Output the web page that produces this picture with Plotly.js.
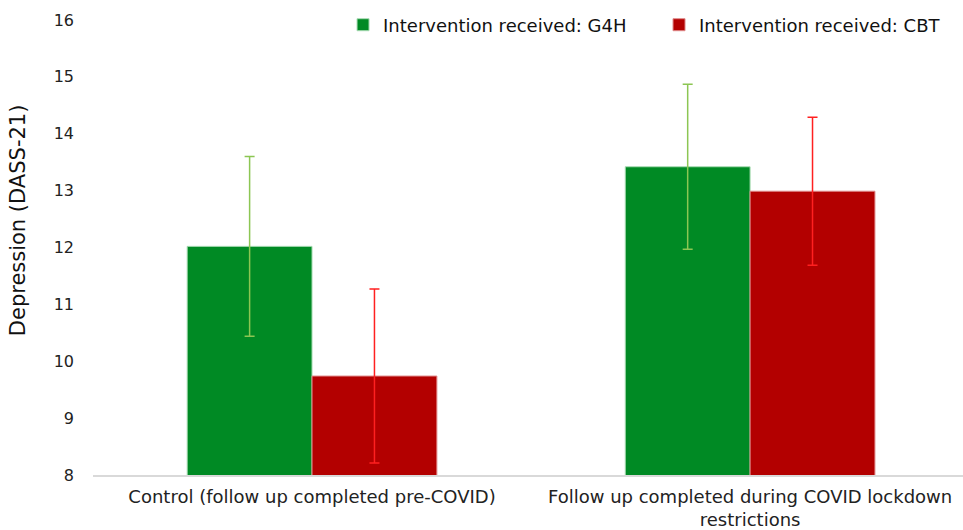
<!DOCTYPE html>
<html>
<head>
<meta charset="utf-8">
<script src="https://cdn.plot.ly/plotly-3.0.1.min.js"></script>
<style>html,body{margin:0;padding:0;background:#fff;}#chart{width:963px;height:530px;}</style>
</head>
<body>
<div id="chart"></div>
<script>
const categories = ["Control (follow up completed pre-COVID)", "Follow up completed during COVID lockdown<br>restrictions"];
const seriesNames = ["Intervention received: G4H", "Intervention received: CBT"];
const g4hValues = [12.02, 13.42];
const g4hErrors = [1.58, 1.45];
const cbtValues = [9.74, 12.99];
const cbtErrors = [1.53, 1.30];
const yTicks = [8, 9, 10, 11, 12, 13, 14, 15, 16];
const yTitle = "Depression (DASS-21)";

const font = "DejaVu Sans, Liberation Sans, Arial, sans-serif";

const traces = [
  {
    type: "bar", name: seriesNames[0], x: categories, y: g4hValues, legend: "legend",
    marker: {color: "#008a24", line: {color: "#a9dcb4", width: 1}},
    error_y: {type: "data", array: g4hErrors, visible: true, color: "#8cc653", thickness: 1.5, width: 5}
  },
  {
    type: "bar", name: seriesNames[1], x: categories, y: cbtValues, legend: "legend2",
    marker: {color: "#b30000", line: {color: "#e08a8a", width: 1}},
    error_y: {type: "data", array: cbtErrors, visible: true, color: "#ff2020", thickness: 1.5, width: 5}
  }
];

const legendStyle = (x) => ({
  orientation: "h", x: x, y: 0.989, xanchor: "left", yanchor: "middle",
  font: {family: font, size: 18, color: "#111"}, bgcolor: "rgba(0,0,0,0)", itemwidth: 30
});

const layout = {
  width: 963, height: 530,
  margin: {l: 93, r: 0, t: 20, b: 55},
  paper_bgcolor: "#fff", plot_bgcolor: "#fff",
  barmode: "group", bargap: 0.43, bargroupgap: 0,
  font: {family: font, size: 16, color: "#222"},
  showlegend: true,
  legend: legendStyle(0.2874),
  legend2: legendStyle(0.6506),
  xaxis: {
    type: "category", range: [-0.5, 1.486], showgrid: false, zeroline: false,
    showline: true, linecolor: "#d9d9d9", linewidth: 2, ticks: "",
    ticklabelstandoff: 4,
    tickfont: {family: font, size: 18, color: "#222"}
  },
  yaxis: {
    range: [8, 16], tickvals: yTicks, ticktext: yTicks.map(String),
    showgrid: false, zeroline: false, showline: false, ticks: "",
    ticklabelstandoff: 18,
    tickfont: {family: font, size: 16, color: "#222"}
  },
  annotations: [{
    text: yTitle, xref: "paper", yref: "paper", x: -0.0862, y: 0.56,
    xanchor: "center", yanchor: "middle", textangle: -90, showarrow: false,
    font: {family: font, size: 21, color: "#111"}
  }]
};

Plotly.newPlot("chart", traces, layout, {displayModeBar: false, staticPlot: true});
</script>
</body>
</html>
